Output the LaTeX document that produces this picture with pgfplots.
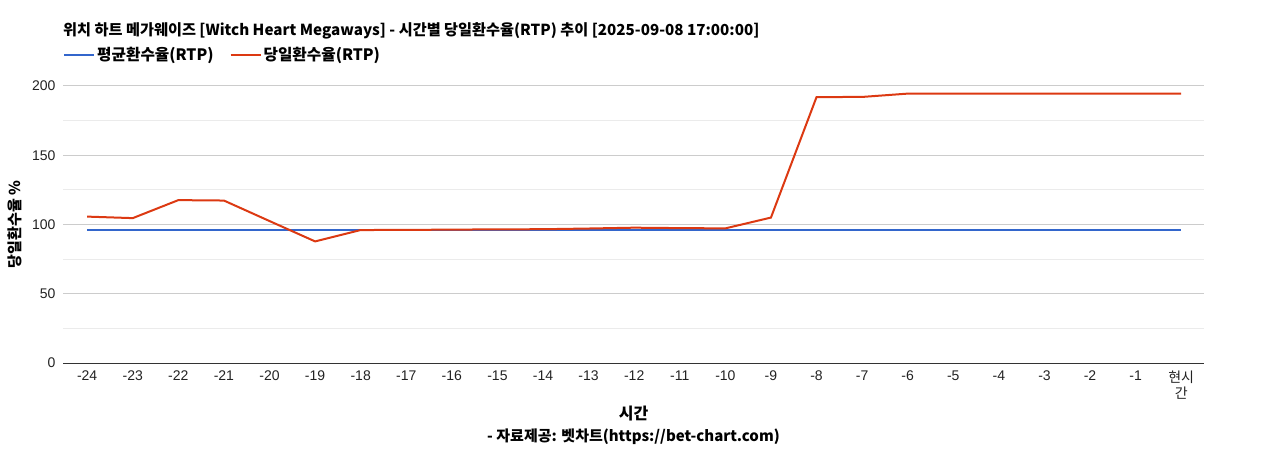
\documentclass[border=0pt]{standalone}
\usepackage{fontspec}
\setmainfont{Liberation Sans}
\newfontfamily\kr{Noto Sans CJK KR}
\usepackage{pgfplots}
\pgfplotsset{compat=1.18}
\definecolor{avgblue}{HTML}{3366CC}
\definecolor{dayred}{HTML}{DC3912}
\definecolor{gridc}{HTML}{CCCCCC}
\definecolor{minorc}{HTML}{EBEBEB}
\definecolor{txt}{HTML}{222222}

\begin{document}
\begin{tikzpicture}[x=1pt,y=1pt]
\path[use as bounding box] (0,0) rectangle (1268,450);
\begin{axis}[
  at={(63pt,87pt)}, anchor=south west,
  scale only axis, width=1141pt, height=277pt,
  xmin=-0.53, xmax=24.5, ymin=0, ymax=200,
  axis lines*=left,
  x axis line style={black!80, line width=1pt},
  y axis line style={draw=none},
  major tick length=0pt, minor tick length=0pt,
  xtick={0,...,24},
  xticklabels={-24,-23,-22,-21,-20,-19,-18,-17,-16,-15,-14,-13,-12,-11,-10,-9,-8,-7,-6,-5,-4,-3,-2,-1,{{\kr 현시}\\{\kr 간}}},
  xticklabel style={align=center, font=\fontsize{14}{16}\selectfont, text=txt, yshift=-4pt},
  ytick={0,50,...,200}, minor ytick={25,75,...,175},
  yticklabel style={font=\fontsize{14}{16}\selectfont, text=txt, xshift=-4pt},
  /pgf/number format/assume math mode=true,
  ymajorgrids, yminorgrids,
  major grid style={gridc, line width=1pt},
  minor grid style={minorc, line width=1pt},
  legend columns=2,
  legend style={at={(0,1.112)}, anchor=west, draw=none, fill=none, inner sep=0pt,
    font=\kr\bfseries\fontsize{15.7}{18}\selectfont,
    nodes={inner sep=2pt},
    /tikz/every even column/.append style={column sep=14pt}},
  legend image code/.code={\draw[#1] (0pt,0pt) -- (30pt,0pt);},
  legend cell align=left,
]
\addplot[avgblue, line width=2pt] coordinates {
  (0,96.3) (1,96.3) (2,96.3) (3,96.3) (4,96.3) (5,96.3) (6,96.3) (7,96.3) (8,96.3)
  (9,96.3) (10,96.3) (11,96.3) (12,96.3) (13,96.3) (14,96.3) (15,96.3) (16,96.3)
  (17,96.3) (18,96.3) (19,96.3) (20,96.3) (21,96.3) (22,96.3) (23,96.3) (24,96.3)
};
\addlegendentry{평균환수율(RTP)}
\addplot[dayred, line width=2pt] coordinates {
  (0,105.7) (1,104.6) (2,117.6) (3,117.3) (4,102.5) (5,87.8) (6,96.0) (7,96.1) (8,96.3)
  (9,96.5) (10,96.6) (11,97.1) (12,97.7) (13,97.4) (14,97.2) (15,105.0) (16,192.0)
  (17,192.1) (18,194.5) (19,194.5) (20,194.5) (21,194.5) (22,194.5) (23,194.5) (24,194.5)
};
\addlegendentry{당일환수율(RTP)}
\end{axis}
\node[anchor=west, inner sep=0pt, font=\kr\bfseries\fontsize{15.2}{17}\selectfont] at (63,419)
  {위치 하트 메가웨이즈 [Witch Heart Megaways] - 시간별 당일환수율(RTP) 추이 [2025-09-08 17:00:00]};
\node[rotate=90, inner sep=0pt, font=\kr\bfseries\fontsize{15}{17}\selectfont] at (15,225.5) {당일환수율 \%};
\node[inner sep=0pt, font=\kr\bfseries\fontsize{16}{18}\selectfont] at (633.5,36) {시간};
\node[inner sep=0pt, font=\kr\bfseries\fontsize{15}{17}\selectfont] at (633.5,13) {- 자료제공: 벳차트(https://bet-chart.com)};
\end{tikzpicture}
\end{document}
